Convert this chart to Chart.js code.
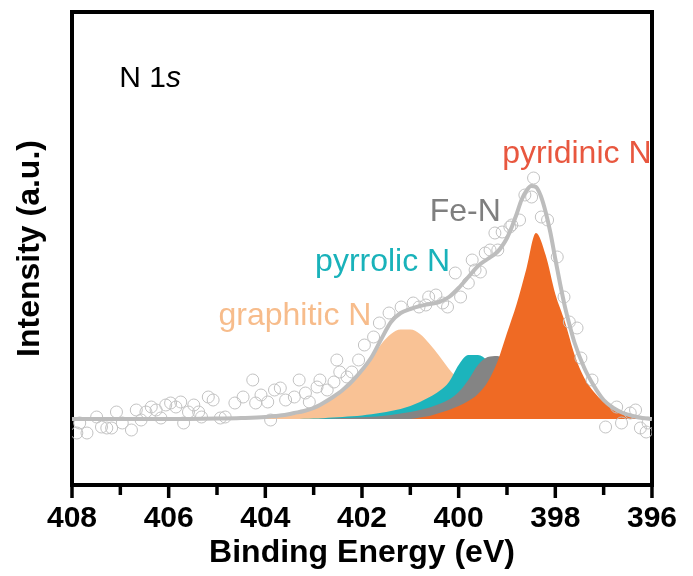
<!DOCTYPE html>
<html>
<head>
<meta charset="utf-8">
<title>N 1s XPS</title>
<script src="https://cdn.jsdelivr.net/npm/chart.js@4.4.0/dist/chart.umd.min.js"></script>
<style>
  html, body { margin: 0; padding: 0; background: #fff; }
  #wrap { width: 693px; height: 576px; }
</style>
</head>
<body>
<div id="wrap"><canvas id="xps" width="693" height="576"></canvas></div>
<script>
/* N 1s spectrum: raw counts, fitted envelope and four fitted components */

// axis ticks (binding energy, eV)
const majorTicks = [396, 398, 400, 402, 404, 406, 408];

// raw spectrum (open circles)
const rawE = [407.90, 407.84, 407.69, 407.49, 407.39, 407.28, 407.18, 407.08, 406.96, 406.77,
  406.67, 406.57, 406.47, 406.36, 406.26, 406.16, 406.06, 405.96, 405.85, 405.75,
  405.69, 405.59, 405.48, 405.38, 405.32, 405.18, 405.08, 404.93, 404.83, 404.63,
  404.46, 404.26, 404.20, 404.09, 403.95, 403.89, 403.81, 403.69, 403.58, 403.40,
  403.30, 403.17, 403.09, 402.93, 402.87, 402.72, 402.58, 402.52, 402.46, 402.31,
  402.21, 402.07, 401.95, 401.76, 401.64, 401.44, 401.19, 400.94, 400.82, 400.68,
  400.62, 400.47, 400.33, 400.23, 400.07, 399.96, 399.80, 399.72, 399.66, 399.55,
  399.45, 399.35, 399.25, 399.19, 399.10, 398.94, 398.90, 398.74, 398.63, 398.49,
  398.45, 398.29, 398.16, 397.96, 397.82, 397.71, 397.55, 397.47, 397.24, 396.96,
  396.73, 396.63, 396.45, 396.34, 396.24, 396.12, 396.08];
const rawI = [-14, -4, -14, 2, -8, -9, -9, 7, -4, -11,
  9, -1, 7, 12, 9, 1, 14, 16, 12, 17,
  -4, 7, 14, 7, 2, 22, 19, 1, 2, 16,
  22, 39, 16, 24, 17, -1, 29, 31, 19, 22,
  39, 26, 17, 32, 39, 29, 37, 59, 47, 42,
  47, 59, 74, 82, 96, 106, 112, 116, 112, 114,
  122, 124, 116, 112, 146, 122, 136, 159, 149, 147,
  166, 169, 186, 169, 187, 192, 194, 199, 224, 222,
  241, 202, 199, 162, 122, 97, 91, 61, 39, -8,
  12, -4, 6, 9, -9, -13, -4];

// fitted envelope
const envE = [396.0, 396.2, 396.4, 396.6, 396.8, 397.0, 397.2, 397.4, 397.6, 397.7,
  397.8, 397.9, 398.0, 398.1, 398.2, 398.3, 398.4, 398.5, 398.6, 398.7,
  398.8, 398.9, 399.0, 399.1, 399.2, 399.4, 399.6, 399.8, 400.0, 400.2,
  400.4, 400.6, 400.8, 401.0, 401.2, 401.4, 401.6, 401.8, 402.0, 402.2,
  402.4, 402.6, 402.8, 403.0, 403.2, 403.4, 403.6, 403.8, 404.0, 404.5,
  405.0, 406.0, 408.0];
const envI = [0, 1, 3, 6, 11, 19, 33, 51, 76, 93,
  112, 135, 160, 186, 207, 223, 232, 233, 228, 219,
  205, 192, 181, 173, 167, 160, 153, 142, 131, 122,
  117, 115, 113, 110, 106, 97, 80, 62, 49, 38,
  29, 22, 16, 11, 8, 6, 4, 3, 2, 1,
  0.5, 0, 0];

// fitted components, all on one energy grid
const compE = [396.2, 396.4, 396.6, 396.8, 397.0, 397.2, 397.4, 397.6, 397.8, 398.0,
  398.2, 398.4, 398.6, 398.8, 399.0, 399.2, 399.4, 399.6, 399.8, 400.0,
  400.2, 400.4, 400.6, 400.8, 401.0, 401.2, 401.4, 401.6, 401.8, 402.0,
  402.2, 402.4, 402.6, 402.8, 403.0, 403.2, 403.4, 403.6, 403.8, 404.0,
  404.2, 404.4];
const pyridinicN = [0, 2, 5, 10, 17, 27, 41, 64, 97, 125,
  164, 186, 150, 115, 86, 57, 37, 25, 18, 13,
  9, 6, 3, 1.5, 0, 0, 0, 0, 0, 0,
  0, 0, 0, 0, 0, 0, 0, 0, 0, 0,
  0, 0];
const feN = [1, 1.4, 2, 2.7, 3.6, 4.7, 6.3, 8, 10, 13,
  17, 23, 31, 43, 57, 63, 62, 54, 39, 27,
  19.5, 15, 11.5, 9, 7, 5.4, 4, 3, 2.3, 1.8,
  1.2, 0.9, 0.5, 0.2, 0, 0, 0, 0, 0, 0,
  0, 0];
const pyrrolicN = [0.2, 0.5, 0.8, 1.2, 1.8, 2.5, 3.3, 4.4, 5.8, 7.6,
  9.7, 12.4, 16, 22, 31, 45, 58, 64, 64, 54,
  37, 28, 22, 17, 13, 10, 8, 6.2, 4.7, 3.6,
  2.7, 2, 1.4, 0.8, 0.5, 0.2, 0, 0, 0, 0,
  0, 0];
const graphiticN = [0, 0, 0, 0, 0, 0, 0, 0, 0, 0.6,
  1.4, 2.3, 3.6, 5.4, 7.7, 11, 16, 22, 29, 39,
  50, 63, 75, 85, 89.5, 89.5, 85, 75, 61, 48,
  37, 28, 21, 16, 11, 7.7, 5.4, 3.6, 2.3, 1.4,
  0.6, 0];

const labelText = ['graphitic N', 'pyrrolic N', 'Fe-N', 'pyridinic N'];

const FONT = "'Liberation Sans', Arial, Helvetica, sans-serif";
Chart.defaults.font.family = FONT;
Chart.defaults.color = '#000';

const pts = (xs, ys) => xs.map((v, i) => ({ x: v, y: ys[i] }));

// short minor / long major ticks under the bottom frame
const tickMarks = {
  id: 'tickMarks',
  afterDraw(chart) {
    const { ctx, chartArea, scales: { x } } = chart;
    ctx.save();
    ctx.strokeStyle = '#000';
    ctx.lineWidth = 3.5;
    x.ticks.forEach(t => {
      const px = x.getPixelForValue(t.value);
      const len = majorTicks.includes(t.value) ? 13 : 10;
      ctx.beginPath();
      ctx.moveTo(px, chartArea.bottom);
      ctx.lineTo(px, chartArea.bottom + len);
      ctx.stroke();
    });
    ctx.restore();
  }
};

// component names and the "N 1s" tag, anchored in data coordinates
const peakLabels = {
  id: 'peakLabels',
  afterDatasetsDraw(chart, args, opts) {
    const { ctx, scales: { x, y } } = chart;
    ctx.save();
    ctx.textAlign = 'left';
    ctx.textBaseline = 'alphabetic';
    ctx.font = '32px ' + FONT;
    opts.items.forEach((it, i) => {
      ctx.fillStyle = it.color;
      ctx.fillText(labelText[i], x.getPixelForValue(it.at[0]), y.getPixelForValue(it.at[1]));
    });
    const tx = x.getPixelForValue(opts.tag[0]);
    const ty = y.getPixelForValue(opts.tag[1]);
    ctx.fillStyle = '#000';
    ctx.font = '30px ' + FONT;
    ctx.fillText('N 1', tx, ty);
    const w = ctx.measureText('N 1').width;
    ctx.font = 'italic 30px ' + FONT;
    ctx.fillText('s', tx + w, ty);
    ctx.restore();
  }
};

const frame = { display: true, width: 4, color: '#000' };
const noGrid = { display: false, drawTicks: false, lineWidth: 4 };

new Chart(document.getElementById('xps'), {
  type: 'line',
  data: {
    datasets: [
      {
        label: 'Fit',
        data: pts(envE, envI),
        borderColor: '#BDBDBD',
        borderWidth: 4,
        pointRadius: 0,
        fill: false,
        cubicInterpolationMode: 'monotone'
      },
      {
        label: 'Raw',
        data: pts(rawE, rawI),
        showLine: false,
        pointRadius: 6,
        pointBorderWidth: 1,
        pointBorderColor: '#C2C2C2',
        pointBackgroundColor: 'rgba(255,255,255,0)'
      },
      {
        label: 'pyridinic N',
        data: pts(compE, pyridinicN),
        borderWidth: 0,
        pointRadius: 0,
        backgroundColor: '#EF6A24',
        fill: 'origin',
        cubicInterpolationMode: 'monotone'
      },
      {
        label: 'Fe-N',
        data: pts(compE, feN),
        borderWidth: 0,
        pointRadius: 0,
        backgroundColor: '#848484',
        fill: 'origin',
        cubicInterpolationMode: 'monotone'
      },
      {
        label: 'pyrrolic N',
        data: pts(compE, pyrrolicN),
        borderWidth: 0,
        pointRadius: 0,
        backgroundColor: '#1CB4BC',
        fill: 'origin',
        cubicInterpolationMode: 'monotone'
      },
      {
        label: 'graphitic N',
        data: pts(compE, graphiticN),
        borderWidth: 0,
        pointRadius: 0,
        backgroundColor: '#F9C295',
        fill: 'origin',
        cubicInterpolationMode: 'monotone'
      }
    ]
  },
  options: {
    responsive: false,
    animation: false,
    layout: { padding: { top: 12, right: 34, left: 0, bottom: 0 } },
    scales: {
      x: {
        type: 'linear',
        position: 'bottom',
        min: 396,
        max: 408,
        reverse: true,
        grid: noGrid,
        border: frame,
        ticks: {
          stepSize: 1,
          autoSkip: false,
          maxRotation: 0,
          padding: 16,
          color: '#000',
          font: { size: 30, weight: 'bold' },
          callback: v => (majorTicks.includes(v) ? String(v) : '')
        },
        title: {
          display: true,
          text: 'Binding Energy (eV)',
          color: '#000',
          font: { size: 32, weight: 'bold' },
          padding: { top: 0, bottom: 4 }
        },
        afterFit: s => { s.height = 91; }
      },
      y: {
        type: 'linear',
        position: 'left',
        min: -66,
        max: 407,
        grid: noGrid,
        border: frame,
        ticks: { display: false },
        title: {
          display: true,
          text: 'Intensity (a.u.)',
          color: '#000',
          font: { size: 32, weight: 'bold' },
          padding: { top: 11, bottom: 0 }
        },
        afterFit: s => { s.width = 72; }
      },
      xTop: {
        type: 'linear',
        position: 'top',
        min: 396,
        max: 408,
        reverse: true,
        grid: noGrid,
        border: frame,
        ticks: { display: false },
        afterFit: s => { s.height = 0; }
      },
      yRight: {
        type: 'linear',
        position: 'right',
        min: -66,
        max: 407,
        grid: noGrid,
        border: frame,
        ticks: { display: false },
        afterFit: s => { s.width = 0; }
      }
    },
    plugins: {
      legend: { display: false },
      tooltip: { enabled: false },
      peakLabels: {
        tag: [407.02, 332],
        items: [
          { at: [404.97, 94], color: '#F7BC8B' },
          { at: [402.97, 148], color: '#19B2BA' },
          { at: [400.60, 198], color: '#7F7F7F' },
          { at: [399.10, 256], color: '#E8573F' }
        ]
      }
    }
  },
  plugins: [tickMarks, peakLabels]
});
</script>
</body>
</html>
